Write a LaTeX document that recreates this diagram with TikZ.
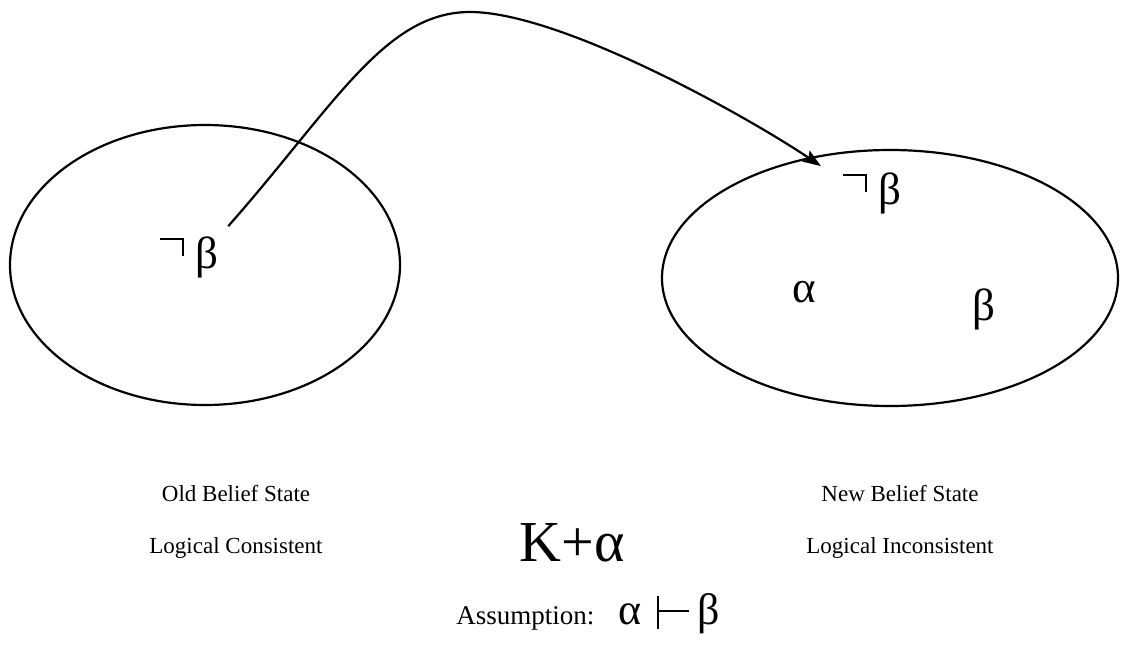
\documentclass[tikz,border=0pt]{standalone}
\usepackage{fontspec}
\setmainfont{Liberation Serif}
\usetikzlibrary{arrows.meta,calc}
\newcommand\negsign{\rule[28pt]{22pt}{2pt}\rule[12pt]{2pt}{18pt}\hspace{11pt}}
\newcommand\turnstile{\rule[-4pt]{2pt}{33pt}\rule[13pt]{30pt}{2pt}}
\begin{document}
\begin{tikzpicture}[x=1pt,y=-1pt,
  blob/.style={draw,line width=2.2pt},
  sym/.style={font=\fontsize{45}{48}\selectfont,inner sep=0pt,anchor=base west},
  lab/.style={font=\fontsize{23}{27}\selectfont},
  conn/.style={line width=2.2pt,-{Stealth[length=18pt,width=13pt,inset=3pt]}}]
\useasboundingbox (0,0) rectangle (1124,645);
\draw[blob] (205,265) ellipse [x radius=195, y radius=140];
\draw[blob] (890,278) ellipse [x radius=228, y radius=128];
\node[sym] (nb1) at (160,268) {\negsign β};
\node[sym] (nb2) at (843,204) {\negsign β};
\node[sym] (a) at (792,302) {α};
\node[sym] (b) at (972,320) {β};
\node[lab] (old1) at (236,494) {Old Belief State};
\node[lab] (old2) at (236,548) {Logical Consistent};
\node[lab] (new1) at (900,494) {New Belief State};
\node[lab] (new2) at (900,548) {Logical Inconsistent};
\node[font=\fontsize{58}{62}\selectfont] (k) at (572,543) {K+α};
\node (as) at (588,614) {\fontsize{27}{30}\selectfont Assumption:\hspace{24pt}{\fontsize{44}{48}\selectfont α\hspace{16pt}\turnstile\hspace{8pt}β}};
\coordinate (s) at ($(nb1.north east)+(10,-10)$);
\coordinate (e) at ($(nb2.north west)+(-22,-6)$);
\coordinate (top) at (470,12);
\draw[conn] (s) .. controls (335,105) and (385,12) .. (top)
  .. controls (560,12) and (745,115) .. (e);
\end{tikzpicture}
\end{document}
